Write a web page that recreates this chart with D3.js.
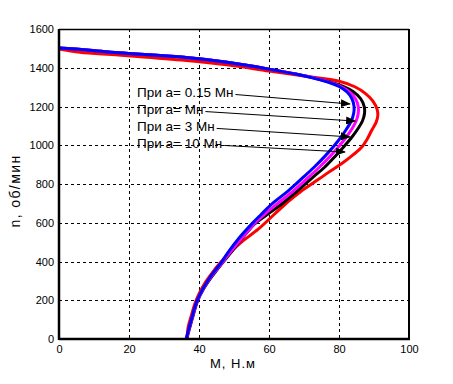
<!DOCTYPE html>
<meta charset="utf-8">
<style>
    body { margin: 0; background: #fff; }
    svg text { font-family: "Liberation Sans", Arial, sans-serif; fill: #000; }
    .tick-label { font-size: 11px; }
    .axis-title { font-size: 13px; letter-spacing: 1px; }
    .axis-title.y { font-size: 14px; letter-spacing: 1.4px; }
    .note { font-size: 13.5px; }
</style>
<body>
<script src="https://cdn.jsdelivr.net/npm/d3@7"></script>
<script>
    /* Data: [M, n] points */
    var xTicks = [0, 20, 40, 60, 80, 100];
    var yTicks = [0, 200, 400, 600, 800, 1000, 1200, 1400, 1600];

    var topPart = [[0, 1502], [8, 1492], [17, 1477], [35, 1455], [48, 1428], [60, 1393], [68, 1366]];

    var curveRed = [[0, 1497], [6, 1480], [17, 1466], [35, 1440], [48, 1415], [60, 1383], [72, 1352], [80, 1330],
        [84.5, 1302], [87.5, 1268], [89.7, 1228], [90.9, 1185], [91.1, 1155], [90.6, 1118], [89.4, 1079],
        [88, 1030], [86.6, 992], [84, 950], [81, 908], [77, 860], [72.6, 805], [69, 760], [66, 717],
        [61.3, 640], [57, 568], [51.7, 494], [48.5, 440], [46, 392], [43.5, 335], [41.7, 289],
        [40.2, 240], [38.9, 186], [37.8, 120], [36.9, 62], [36.6, 0]];

    var curveBlack = topPart.concat([[73, 1347], [77, 1328], [81, 1305], [84, 1277], [86.2, 1240], [87.2, 1200],
        [87.3, 1165], [86.7, 1125], [85.4, 1085], [83.6, 1040], [81.5, 995], [79, 945], [75.8, 885],
        [72.6, 836], [68.5, 770], [64, 702], [59.3, 640], [56, 595], [52.6, 526], [49.3, 450], [47, 400],
        [43.6, 320], [41.2, 255], [39.6, 196], [38, 100], [36.5, 0]]);

    var curveMagenta = topPart.concat([[73, 1347], [77, 1327], [80.5, 1303], [83, 1275], [84.7, 1240], [85.5, 1200],
        [85.5, 1165], [84.9, 1125], [83.7, 1085], [82, 1040], [80, 995], [77.3, 940], [74.3, 885],
        [71, 830], [67, 765], [62.5, 700], [58.5, 640], [55.8, 595], [52.2, 520], [48.8, 445], [46.7, 396],
        [43.4, 320], [41.1, 255], [39.5, 196], [37.9, 100], [36.4, 0]]);

    var curveBlue = topPart.concat([[73, 1345], [77, 1325], [80, 1303], [82.3, 1275], [83.7, 1240], [84.3, 1200],
        [84.2, 1165], [83.5, 1125], [82.2, 1085], [80.5, 1040], [78.5, 995], [75.8, 940], [72.8, 885],
        [69.5, 830], [65.5, 765], [61, 700], [57.6, 640], [55.3, 598], [51.4, 520], [48.1, 442], [46.4, 396],
        [43.2, 320], [41, 255], [39.4, 196], [37.8, 100], [36.3, 0]]);

    /* Annotations: text, label anchor (M, n baseline), arrow tip (M, n) */
    var noteTexts = ["При а= 0.15 Мн", "При а= Мн", "При а= 3 Мн", "При а= 10 Мн"];
    var noteN = [1249, 1161, 1074, 986];
    var noteM = 22.3;
    var arrowTips = [[83.1, 1213], [84.6, 1125], [83.1, 1043], [81.7, 965]];

    /* Layout */
    var w = 453, h = 384;
    var padLeft = 59, padRight = 409, padTop = 29, padBottom = 339;

    var svg = d3.select("body").append("svg")
        .attr("width", w)
        .attr("height", h);

    var xScale = d3.scaleLinear().domain([0, 100]).range([padLeft, padRight]);
    var yScale = d3.scaleLinear().domain([0, 1600]).range([padBottom, padTop]);

    // dashed grid
    svg.append("g").selectAll("line")
        .data(xTicks.slice(1, -1))
        .enter().append("line")
        .attr("x1", function (d) { return xScale(d) + 0.5; })
        .attr("x2", function (d) { return xScale(d) + 0.5; })
        .attr("y1", padTop).attr("y2", padBottom)
        .attr("stroke", "#000").attr("stroke-width", 1)
        .attr("stroke-dasharray", "3,3");

    svg.append("g").selectAll("line")
        .data(yTicks.slice(1, -1))
        .enter().append("line")
        .attr("y1", function (d) { return Math.round(yScale(d)) + 0.5; })
        .attr("y2", function (d) { return Math.round(yScale(d)) + 0.5; })
        .attr("x1", padLeft).attr("x2", padRight)
        .attr("stroke", "#000").attr("stroke-width", 1)
        .attr("stroke-dasharray", "3,3");

    // axes (labels only, no tick marks)
    var fmt = d3.format("d");
    var xAxis = d3.axisBottom(xScale).tickValues(xTicks).tickFormat(fmt).tickSize(0).tickPadding(6);
    var yAxis = d3.axisLeft(yScale).tickValues(yTicks).tickFormat(fmt).tickSize(0).tickPadding(5);

    var gx = svg.append("g")
        .attr("transform", "translate(0," + padBottom + ")")
        .call(xAxis);
    var gy = svg.append("g")
        .attr("transform", "translate(" + padLeft + ",0)")
        .call(yAxis);
    [gx, gy].forEach(function (g) {
        g.select(".domain").remove();
        g.attr("font-family", null).attr("font-size", null);
        g.selectAll("text").attr("class", "tick-label");
    });

    // curves
    var line = d3.line()
        .x(function (d) { return xScale(d[0]); })
        .y(function (d) { return yScale(d[1]); })
        .curve(d3.curveCatmullRom.alpha(0.5));

    var series = [
        { data: curveRed, color: "#ff0000" },
        { data: curveBlack, color: "#000000" },
        { data: curveMagenta, color: "#ff00ff" },
        { data: curveBlue, color: "#0000ff" }
    ];

    svg.append("g").selectAll("path")
        .data(series)
        .enter().append("path")
        .attr("d", function (d) { return line(d.data); })
        .attr("fill", "none")
        .attr("stroke", function (d) { return d.color; })
        .attr("stroke-width", 3)
        .attr("stroke-linejoin", "round");

    // frame
    svg.append("line").attr("x1", padLeft).attr("x2", padRight).attr("y1", padTop + 0.5).attr("y2", padTop + 0.5)
        .attr("stroke", "#000").attr("stroke-width", 1.5);
    svg.append("line").attr("x1", padRight).attr("x2", padRight).attr("y1", padTop).attr("y2", padBottom)
        .attr("stroke", "#000").attr("stroke-width", 2);
    svg.append("line").attr("x1", padLeft).attr("x2", padLeft).attr("y1", padTop).attr("y2", padBottom + 1)
        .attr("stroke", "#000").attr("stroke-width", 2.5);
    svg.append("line").attr("x1", padLeft).attr("x2", padRight + 1).attr("y1", padBottom).attr("y2", padBottom)
        .attr("stroke", "#000").attr("stroke-width", 2.5);

    // axis titles
    svg.append("text")
        .attr("class", "axis-title")
        .attr("x", xScale(50) - 1)
        .attr("y", 368)
        .attr("text-anchor", "middle")
        .text("М, Н.м");

    svg.append("text")
        .attr("class", "axis-title y")
        .attr("transform", "translate(20," + (yScale(800) + 7) + ") rotate(-90)")
        .attr("text-anchor", "middle")
        .text("n, об/мин");

    // arrow marker
    svg.append("defs").append("marker")
        .attr("id", "arrow")
        .attr("markerUnits", "userSpaceOnUse")
        .attr("markerWidth", 10).attr("markerHeight", 8)
        .attr("refX", 9).attr("refY", 4)
        .attr("orient", "auto")
        .append("path")
        .attr("d", "M0,0 L10,4 L0,8 Z")
        .attr("fill", "#000");

    // annotations
    noteTexts.forEach(function (t, i) {
        var tx = svg.append("text")
            .attr("class", "note")
            .attr("x", xScale(noteM))
            .attr("y", yScale(noteN[i]))
            .text(t);
        var len = tx.node().getComputedTextLength();
        svg.append("line")
            .attr("x1", xScale(noteM) + len + 2)
            .attr("y1", yScale(noteN[i]) - 2.5)
            .attr("x2", xScale(arrowTips[i][0]))
            .attr("y2", yScale(arrowTips[i][1]))
            .attr("stroke", "#000")
            .attr("stroke-width", 1)
            .attr("marker-end", "url(#arrow)");
    });
</script>
</body>
